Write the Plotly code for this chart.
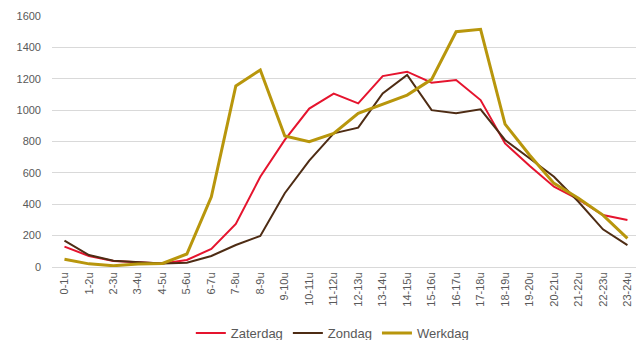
import plotly.graph_objects as go

# Hour slots of the day
uren = ["0-1u", "1-2u", "2-3u", "3-4u", "4-5u", "5-6u", "6-7u", "7-8u",
        "8-9u", "9-10u", "10-11u", "11-12u", "12-13u", "13-14u", "14-15u",
        "15-16u", "16-17u", "17-18u", "18-19u", "19-20u", "20-21u",
        "21-22u", "22-23u", "23-24u"]

zaterdag = [130, 70, 38, 30, 23, 45, 115, 274, 575, 810, 1010, 1105,
            1043, 1217, 1245, 1175, 1192, 1064, 788, 645, 512, 431, 331, 300]

zondag = [168, 76, 40, 32, 23, 27, 70, 140, 198, 470, 678, 852,
          888, 1107, 1224, 1000, 980, 1005, 810, 693, 575, 416, 240, 140]

werkdag = [49, 20, 8, 19, 23, 83, 448, 1154, 1256, 835, 799, 852,
           980, 1039, 1096, 1196, 1500, 1515, 911, 714, 533, 438, 331, 183]

y_ticks = [0, 200, 400, 600, 800, 1000, 1200, 1400, 1600]

fig = go.Figure()
fig.add_trace(go.Scatter(x=uren, y=zaterdag, name="Zaterdag", mode="lines",
                         line=dict(color="#E5142E", width=2)))
fig.add_trace(go.Scatter(x=uren, y=zondag, name="Zondag", mode="lines",
                         line=dict(color="#4E2C14", width=2)))
fig.add_trace(go.Scatter(x=uren, y=werkdag, name="Werkdag", mode="lines",
                         line=dict(color="#B8960C", width=3)))

fig.update_layout(
    width=636, height=340,
    margin=dict(l=52, r=0, t=16, b=73, autoexpand=False),
    paper_bgcolor="white", plot_bgcolor="white",
    font=dict(family="Liberation Sans, Arial, sans-serif", size=11, color="#595959"),
    legend=dict(orientation="h", x=0.48, xanchor="center", y=-0.263, yanchor="middle",
                font=dict(size=13, color="#595959"), itemwidth=30,
                traceorder="normal"),
    hovermode=False,
)
fig.update_xaxes(
    type="category", range=[-0.51, 23.35], automargin=False,
    tickangle=-90, showgrid=False, showline=True, linecolor="#d9d9d9",
    linewidth=1, ticks="", tickfont=dict(size=11, color="#595959"),
    zeroline=False,
)
fig.update_yaxes(
    range=[0, 1600], tickvals=y_ticks, showgrid=True, gridcolor="#d9d9d9",
    gridwidth=1, zeroline=False, showline=False, ticks="", automargin=False,
    tickfont=dict(size=11, color="#595959"), ticklabelstandoff=10,
)

fig.write_html("out.html")
